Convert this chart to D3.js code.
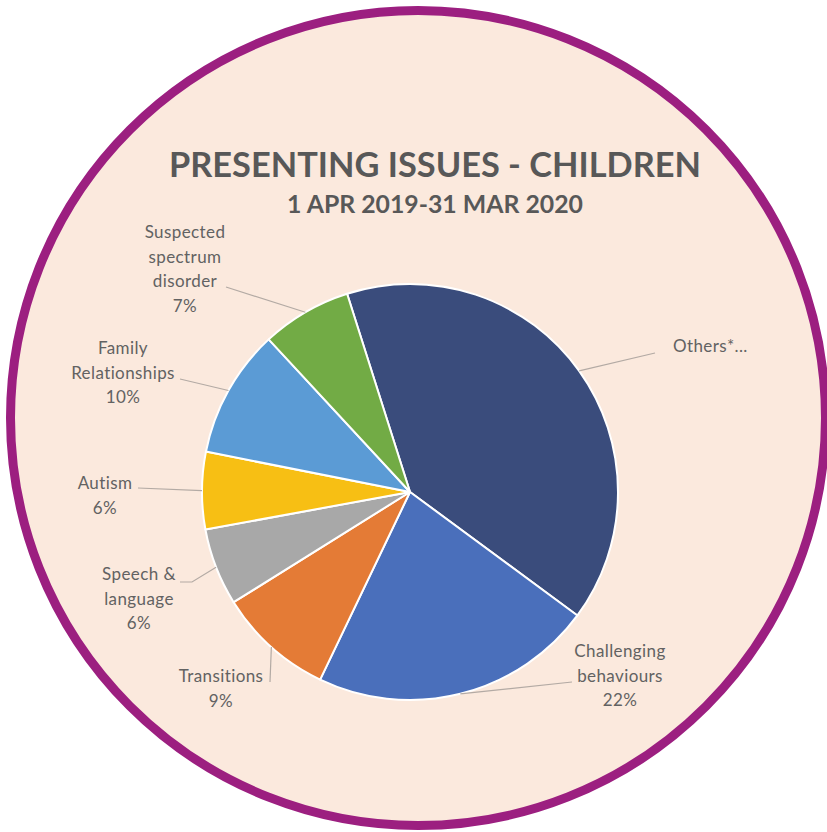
<!DOCTYPE html>
<html>
<head>
<meta charset="utf-8">
<script src="https://cdn.jsdelivr.net/npm/d3@7"></script>
<style>
  html, body { margin: 0; padding: 0; background: #ffffff; }
  svg { display: block; }
</style>
</head>
<body>
<svg id="chart" width="827" height="832"></svg>
<script>
// Presenting issues among children, 1 Apr 2019 – 31 Mar 2020 (percent of cases)
const categories = ["Others*...", "Challenging behaviours", "Transitions", "Speech & language",
                    "Autism", "Family Relationships", "Suspected spectrum disorder"];
const values = [40, 22, 9, 6, 6, 10, 7];
const showPercent = [false, true, true, true, true, true, true];
const labelLines = [
  ["Others*..."],
  ["Challenging", "behaviours"],
  ["Transitions"],
  ["Speech &", "language"],
  ["Autism"],
  ["Family", "Relationships"],
  ["Suspected", "spectrum", "disorder"]
];
const colors = ["#3a4c7c", "#4a6fbb", "#e47b36", "#a8a8a8", "#f7bf14", "#5b9bd5", "#72ab45"];

// Label placement: text anchor, first baseline and the point where the leader line meets the text
const labelLayout = [
  { x: 673, y: 352, anchor: "start",  end: [[655, 353]] },
  { x: 620, y: 657, anchor: "middle", end: [[572, 682]] },
  { x: 221, y: 682, anchor: "middle", end: [[270, 682]] },
  { x: 139, y: 580, anchor: "middle", end: [[192, 582], [180, 582]] },
  { x: 105, y: 489, anchor: "middle", end: [[138, 488]] },
  { x: 123, y: 354, anchor: "middle", end: [[180, 379]] },
  { x: 185, y: 238, anchor: "middle", end: [[226, 287]] }
];

const svg = d3.select("#chart");

// Round backdrop with purple ring
svg.append("circle")
  .attr("cx", 418).attr("cy", 418).attr("r", 407.5)
  .attr("fill", "#fbe9dd")
  .attr("stroke", "#9c1f80")
  .attr("stroke-width", 9);

// Titles
function fitWidth(sel, target) {
  const w = sel.node().getComputedTextLength();
  const fs = +sel.attr("font-size");
  sel.attr("font-size", (fs * target / w).toFixed(2));
}
const title = svg.append("text")
  .attr("x", 435).attr("y", 177)
  .attr("text-anchor", "middle")
  .attr("font-family", "Lato, 'Open Sans', sans-serif")
  .attr("font-weight", 700)
  .attr("font-size", 34)
  .attr("fill", "#585858")
  .text("PRESENTING ISSUES - CHILDREN");
fitWidth(title, 532);

const subtitle = svg.append("text")
  .attr("x", 435).attr("y", 213)
  .attr("text-anchor", "middle")
  .attr("font-family", "Lato, 'Open Sans', sans-serif")
  .attr("font-weight", 700)
  .attr("font-size", 20)
  .attr("fill", "#585858")
  .text("1 APR 2019-31 MAR 2020");
fitWidth(subtitle, 296);

// Pie
const cx = 410, cy = 492, R = 208;
const total = d3.sum(values);
const startDeg = -17.6;
const pie = d3.pie()
  .sort(null)
  .value(d => d)
  .startAngle(startDeg * Math.PI / 180)
  .endAngle((startDeg + 360) * Math.PI / 180);
const arcs = pie(values);
const arc = d3.arc().innerRadius(0).outerRadius(R);

const g = svg.append("g").attr("transform", `translate(${cx},${cy})`);
g.selectAll("path.slice")
  .data(arcs)
  .join("path")
  .attr("class", "slice")
  .attr("d", arc)
  .attr("fill", (d, i) => colors[i])
  .attr("stroke", "#ffffff")
  .attr("stroke-width", 2)
  .attr("stroke-linejoin", "round");

// Leader lines from the slice's outer edge (mid angle) to its label
arcs.forEach((d, i) => {
  const a = (d.startAngle + d.endAngle) / 2;
  const p = [cx + R * Math.sin(a), cy - R * Math.cos(a)];
  const pts = [p, ...labelLayout[i].end];
  svg.append("path")
    .attr("d", d3.line()(pts))
    .attr("fill", "none")
    .attr("stroke", "#b3aaa4")
    .attr("stroke-width", 1.2);
});

// Category labels with percentages
const lineH = 24.5;
arcs.forEach((d, i) => {
  const L = labelLayout[i];
  const lines = labelLines[i].slice();
  if (showPercent[i]) lines.push(Math.round(values[i] / total * 100) + "%");
  const t = svg.append("text")
    .attr("text-anchor", L.anchor)
    .attr("font-family", "Lato, 'Open Sans', sans-serif")
    .attr("font-size", 17)
    .attr("letter-spacing", 0.4)
    .attr("fill", "#626262");
  lines.forEach((s, k) => {
    t.append("tspan").attr("x", L.x).attr("y", L.y + k * lineH).text(s);
  });
});
</script>
</body>
</html>
